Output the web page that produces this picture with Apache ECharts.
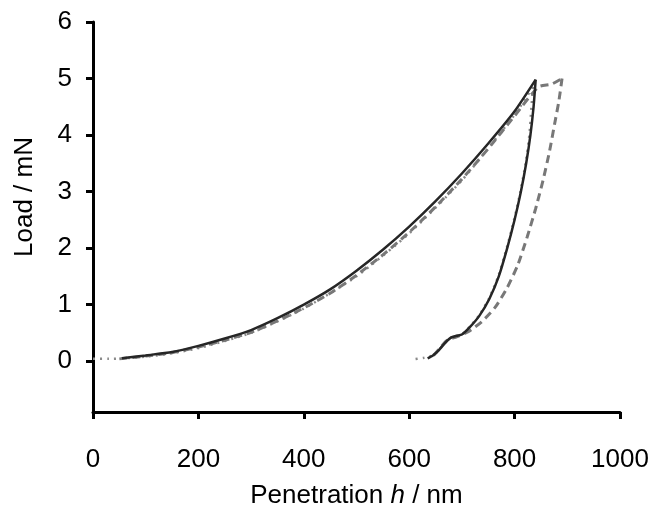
<!DOCTYPE html>
<html>
<head>
<meta charset="utf-8">
<script src="https://cdn.jsdelivr.net/npm/echarts@6/dist/echarts.min.js"></script>
<style>html,body{margin:0;padding:0;background:#fff;}#c{width:652px;height:514px;}</style>
</head>
<body>
<div id="c"></div>
<script>
// Axis ticks
const xTicks = [0, 200, 400, 600, 800, 1000];
const yTicks = [0, 1, 2, 3, 4, 5, 6];

// Sample 1 (solid): loading and unloading
const solidLoadX = [55, 100, 150, 200, 250, 300, 350, 400, 450, 500, 550, 600, 650, 700, 750, 800, 840];
const solidLoadY = [0.05, 0.1, 0.16, 0.27, 0.4, 0.55, 0.76, 1.0, 1.27, 1.6, 1.97, 2.38, 2.83, 3.32, 3.85, 4.42, 4.98];
const solidUnloadX = [840, 836, 830, 822, 812, 800, 786, 770, 752, 733, 715, 700, 690, 680, 672, 664, 655, 645, 635];
const solidUnloadY = [4.98, 4.5, 4.0, 3.5, 3.0, 2.5, 2.0, 1.5, 1.1, 0.8, 0.6, 0.47, 0.45, 0.42, 0.36, 0.28, 0.18, 0.1, 0.05];

// Sample 2 (dashed)
const dashLoadX = [50, 100, 150, 200, 250, 300, 350, 400, 450, 500, 550, 600, 650, 700, 750, 800, 845, 870, 890];
const dashLoadY = [0.04, 0.09, 0.15, 0.25, 0.37, 0.51, 0.71, 0.94, 1.2, 1.52, 1.88, 2.28, 2.73, 3.22, 3.76, 4.34, 4.85, 4.9, 5.0];
const dashUnloadX = [890, 884, 876, 866, 854, 840, 824, 806, 786, 763, 738, 712, 690, 672, 660, 648, 640];
const dashUnloadY = [5.0, 4.6, 4.2, 3.7, 3.2, 2.7, 2.2, 1.7, 1.3, 0.95, 0.7, 0.52, 0.43, 0.37, 0.25, 0.12, 0.06];

// Sample 3 (dotted) – mostly hidden under the other two curves
const dotLoadX = [0, 30, 60, 100, 150, 200, 300, 400, 500, 600, 700, 800, 835];
const dotLoadY = [0.04, 0.04, 0.05, 0.08, 0.14, 0.23, 0.5, 0.93, 1.5, 2.26, 3.2, 4.36, 4.85];
const dotUnloadX = [835, 832, 828, 821, 811, 799, 785, 769, 751, 732, 714, 700, 690, 680, 672, 664, 655, 645, 628, 608];
const dotUnloadY = [4.85, 4.5, 4.0, 3.5, 3.0, 2.5, 2.0, 1.5, 1.1, 0.8, 0.6, 0.47, 0.45, 0.42, 0.36, 0.28, 0.18, 0.1, 0.06, 0.03];

function pairs(xs, ys) { return xs.map((x, i) => [x, ys[i]]); }

const font = 'Liberation Sans, Arial, sans-serif';
const fs = 26;
const chart = echarts.init(document.getElementById('c'));
chart.setOption({
  animation: false,
  backgroundColor: '#fff',
  grid: { left: 93, right: 32, top: 22, bottom: 99 },
  xAxis: {
    type: 'value', min: 0, max: 1000, interval: 200,
    name: 'Penetration {i|h} / nm', nameLocation: 'middle', nameGap: 71,
    nameTextStyle: { fontFamily: font, fontSize: fs, color: '#000', rich: { i: { fontStyle: 'italic', fontFamily: font, fontSize: fs, color: '#000' } } },
    axisLine: { show: true, onZero: false, lineStyle: { color: '#000', width: 3 } },
    axisTick: { show: true, length: 7, lineStyle: { color: '#000', width: 3 }, customValues: xTicks },
    axisLabel: { fontFamily: font, fontSize: fs, color: '#000', margin: 35, customValues: xTicks, formatter: v => String(v) },
    splitLine: { show: false }
  },
  yAxis: {
    type: 'value', min: -0.9, max: 6,
    name: 'Load / mN', nameLocation: 'middle', nameGap: 55, nameRotate: 90,
    nameTextStyle: { fontFamily: font, fontSize: fs, color: '#000', padding: [0, 0, 0, 40] },
    axisLine: { show: true, onZero: false, lineStyle: { color: '#000', width: 3 } },
    axisTick: { show: true, length: 7, lineStyle: { color: '#000', width: 3 }, customValues: yTicks },
    axisLabel: { fontFamily: font, fontSize: fs, color: '#000', margin: 21, customValues: yTicks, formatter: v => String(v) },
    splitLine: { show: false }
  },
  series: [
    { type: 'line', name: 'dotted load', data: pairs(dotLoadX, dotLoadY), showSymbol: false, smooth: 0.2, z: 1,
      lineStyle: { color: '#8a8a8a', width: 2.5, type: [2, 5] } },
    { type: 'line', name: 'dotted unload', data: pairs(dotUnloadX, dotUnloadY), showSymbol: false, smooth: 0.2, z: 1,
      lineStyle: { color: '#8a8a8a', width: 2.5, type: [2, 5] } },
    { type: 'line', name: 'dashed load', data: pairs(dashLoadX, dashLoadY), showSymbol: false, smooth: 0.2, z: 2,
      lineStyle: { color: '#787878', width: 3, type: [8, 5] } },
    { type: 'line', name: 'dashed unload', data: pairs(dashUnloadX, dashUnloadY), showSymbol: false, smooth: 0.2, z: 2,
      lineStyle: { color: '#787878', width: 3, type: [8, 5] } },
    { type: 'line', name: 'solid load', data: pairs(solidLoadX, solidLoadY), showSymbol: false, smooth: 0.2, z: 3,
      lineStyle: { color: '#262626', width: 2.5 } },
    { type: 'line', name: 'solid unload', data: pairs(solidUnloadX, solidUnloadY), showSymbol: false, smooth: 0.2, z: 3,
      lineStyle: { color: '#262626', width: 2.5 } }
  ]
});
</script>
</body>
</html>
